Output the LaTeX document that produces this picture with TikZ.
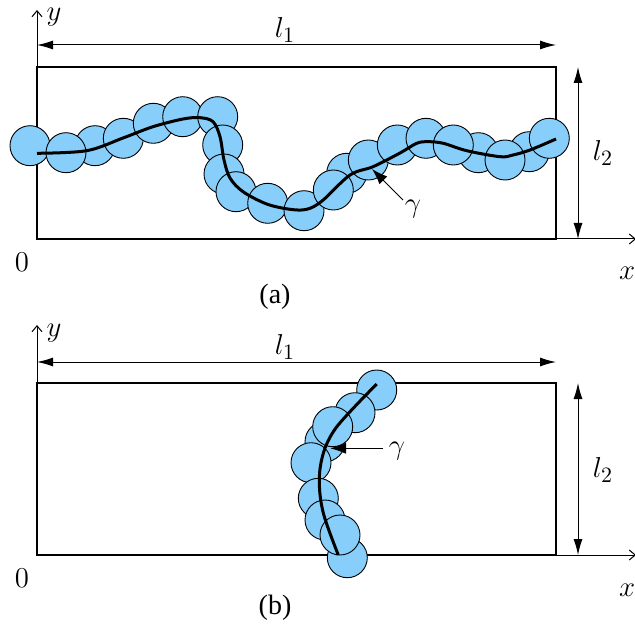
\documentclass[tikz,border=0pt]{standalone}
\usepackage[no-math]{fontspec}
\newfontfamily\capfont{Liberation Serif}
\usetikzlibrary{arrows.meta}
\definecolor{disccol}{RGB}{135,206,250}
\tikzset{
  axisline/.style={line width=0.5pt,-{Straight Barb[length=3pt,width=5pt]}},
  dimline/.style={line width=0.5pt,{Latex[length=8pt,width=4.5pt]}-{Latex[length=8pt,width=4.5pt]}},
  boxline/.style={line width=0.65pt},
  disc/.style={fill=disccol,draw=black,line width=0.45pt},
  curveline/.style={line width=1.5pt},
  gamarrow/.style={line width=0.5pt,-{Latex[length=8pt,width=5.5pt]}},
  mlabel/.style={font=\fontsize{15.5}{18}\selectfont,inner sep=0pt},
  tlabel/.style={font=\capfont\fontsize{14}{16}\selectfont,inner sep=0pt}
}
\begin{document}
\begin{tikzpicture}[x=0.5pt,y=-0.5pt]
\useasboundingbox (0,0) rectangle (635,630);
% ================= panel (a)
\coordinate (Ao) at (37,239);
\coordinate (Ay) at (37,10);
\coordinate (Ax) at (636,239);
\draw[axisline] (Ao) -- (Ay);
\draw[axisline] (Ao) -- (Ax);
\draw[boxline] (37,67) rectangle (556,239);
\coordinate (Al1a) at (37,45);
\coordinate (Al1b) at (556,45);
\draw[dimline] (Al1a) -- (Al1b);
\coordinate (Al2a) at (578,67);
\coordinate (Al2b) at (578,239);
\draw[dimline] (Al2a) -- (Al2b);
\node[mlabel] (AyL) at (54,17) {$y$};
\node[mlabel] (Al1L) at (285,30) {$l_1$};
\node[mlabel] (Al2L) at (603,153) {$l_2$};
\node[mlabel] (A0) at (22,262) {$0$};
\node[mlabel] (AxL) at (627,273) {$x$};
\node[tlabel] (Acap) at (275,297) {(a)};
% discs
\foreach \p in {(30,145.7),(95,145.7),(66,152.7),(123.3,138.3),(153.3,123.3),(182.7,116.7),(217.7,116.7),(222.7,145),(224,174),(236,191.7),(267.7,203.3),(304,210.7),
 (346.7,173.3),(333.3,190),(368.3,160),(397.3,145),(426,138.3),(478.3,152.7),(453.3,145),(529.3,151.7),(505,160),(549.3,138.3)}
  \draw[disc] \p circle[radius=20];
\draw[curveline] plot[smooth,tension=0.55] coordinates {(37,153.3) (86.7,150.7) (123,138) (153,126.7) (183,119) (200,117.7) (213,121.7) (220,136.7) (224,160) (230,178) (243,191.7) (266.7,204) (290,209.3) (306.7,209.3) (322,201) (350,175) (373,166.7) (400,153) (416.7,143.3) (428,141.7) (443.3,143.3) (466.7,150.7) (500,156.7) (513,155) (530,150) (556,139)};
\coordinate (Agt) at (403,200);
\coordinate (Agh) at (372,169);
\draw[gamarrow] (Agt) -- (Agh);
\node[mlabel] (AgL) at (413,209) {$\gamma$};
% ================= panel (b)
\coordinate (Bo) at (37,555);
\coordinate (By) at (37,325);
\coordinate (Bx) at (636,555);
\draw[axisline] (Bo) -- (By);
\draw[axisline] (Bo) -- (Bx);
\draw[boxline] (37,383) rectangle (556,555);
\coordinate (Bl1a) at (37,362);
\coordinate (Bl1b) at (556,362);
\draw[dimline] (Bl1a) -- (Bl1b);
\coordinate (Bl2a) at (578,383);
\coordinate (Bl2b) at (578,555);
\draw[dimline] (Bl2a) -- (Bl2b);
\node[mlabel] (ByL) at (54,333) {$y$};
\node[mlabel] (Bl1L) at (285,347) {$l_1$};
\node[mlabel] (Bl2L) at (603,470) {$l_2$};
\node[mlabel] (B0) at (22,578) {$0$};
\node[mlabel] (BxL) at (627,590) {$x$};
\node[tlabel] (Bcap) at (275,608) {(b)};
\foreach \p in {(376.7,390),(355,412.7),(325,441.7),(332.7,426.7),(311,462.7),(318.3,498.3),(325,520),(347.3,557.7),(340,535)}
  \draw[disc] \p circle[radius=20];
\draw[curveline] plot[smooth,tension=0.6] coordinates {(376.7,384) (350,411.7) (333.3,431.7) (323.3,453.3) (319.3,480) (323.3,513) (338.3,555)};
\coordinate (Bgt) at (383,448.3);
\coordinate (Bgh) at (330,448.3);
\draw[gamarrow] (Bgt) -- (Bgh);
\node[mlabel] (BgL) at (397,451) {$\gamma$};
\end{tikzpicture}
\end{document}
